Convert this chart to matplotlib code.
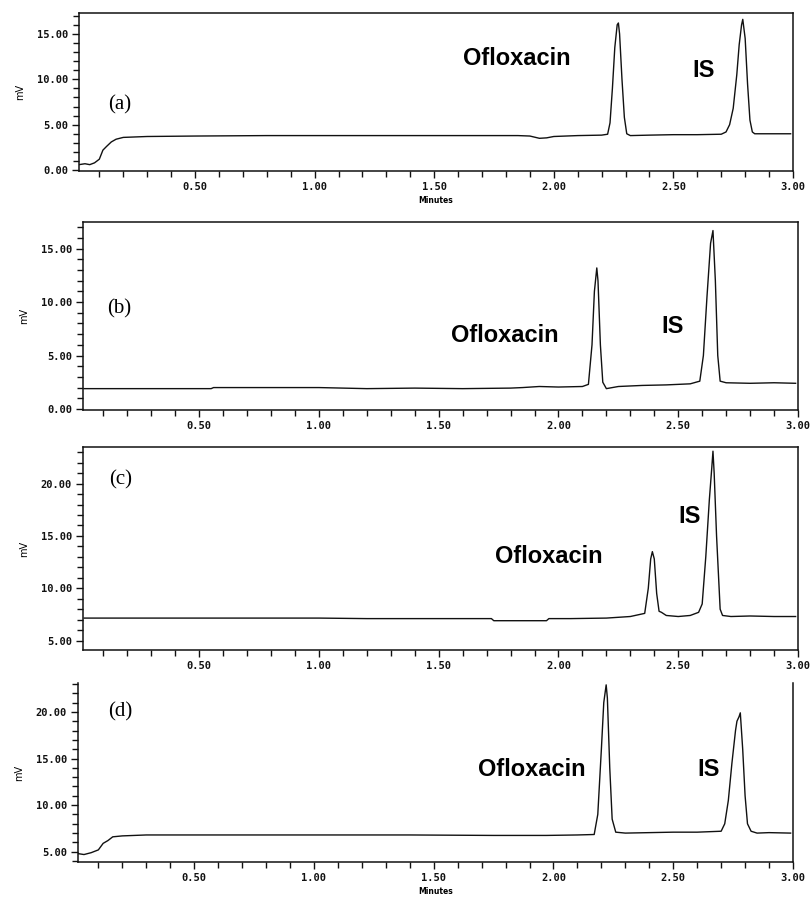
import numpy as np
import matplotlib.pyplot as plt
from matplotlib.ticker import MultipleLocator, FormatStrFormatter

# data: waktu (menit) dan sinyal (mV) tiap kromatogram
t_a = [0.015, 0.04, 0.06, 0.08, 0.10, 0.115, 0.13, 0.15, 0.17, 0.20, 0.30, 0.50, 0.80,
       1.00, 1.30, 1.60, 1.85, 1.90, 1.94, 1.97, 2.00, 2.10, 2.20, 2.225, 2.235, 2.245,
       2.255, 2.265, 2.27, 2.275, 2.285, 2.295, 2.305, 2.32, 2.40, 2.50, 2.60, 2.70,
       2.72, 2.735, 2.75, 2.765, 2.775, 2.785, 2.79, 2.80, 2.81, 2.82, 2.83, 2.84,
       2.90, 2.99]
y_a = [0.6, 0.7, 0.6, 0.8, 1.2, 2.2, 2.6, 3.1, 3.4, 3.6, 3.7, 3.75, 3.8,
       3.8, 3.8, 3.8, 3.8, 3.75, 3.5, 3.55, 3.7, 3.8, 3.85, 3.95, 5.2, 9.0,
       13.5, 16.0, 16.2, 15.0, 10.0, 5.8, 4.0, 3.8, 3.85, 3.9, 3.9, 3.95,
       4.2, 5.0, 6.8, 10.5, 13.8, 16.0, 16.6, 14.5, 9.5, 5.5, 4.2, 4.0,
       4.0, 4.0]

t_b = [0.02, 0.55, 0.56, 1.00, 1.20, 1.40, 1.60, 1.80, 1.85, 1.92, 2.00, 2.10, 2.125,
       2.14, 2.15, 2.16, 2.165, 2.175, 2.185, 2.20, 2.25, 2.35, 2.45, 2.55, 2.59,
       2.605, 2.62, 2.635, 2.645, 2.655, 2.665, 2.675, 2.70, 2.80, 2.90, 2.99]
y_b = [1.9, 1.9, 2.0, 2.0, 1.9, 1.95, 1.9, 1.95, 2.0, 2.1, 2.05, 2.1, 2.3,
       6.0, 11.0, 13.2, 12.0, 6.0, 2.5, 1.9, 2.1, 2.2, 2.25, 2.35, 2.6,
       5.0, 10.5, 15.5, 16.7, 12.0, 5.0, 2.6, 2.45, 2.4, 2.45, 2.4]

t_c = [0.02, 1.00, 1.20, 1.40, 1.72, 1.73, 1.95, 1.96, 2.05, 2.20, 2.30, 2.36, 2.375,
       2.385, 2.392, 2.40, 2.41, 2.42, 2.43, 2.45, 2.50, 2.55, 2.585, 2.60, 2.615,
       2.63, 2.64, 2.645, 2.65, 2.66, 2.675, 2.685, 2.72, 2.80, 2.90, 2.99]
y_c = [7.15, 7.15, 7.1, 7.1, 7.1, 6.9, 6.9, 7.1, 7.1, 7.15, 7.3, 7.6, 10.0,
       12.8, 13.5, 12.8, 9.5, 7.8, 7.7, 7.4, 7.3, 7.4, 7.7, 8.5, 13.0,
       18.5, 21.5, 23.1, 21.0, 15.0, 8.0, 7.4, 7.3, 7.35, 7.3, 7.3]

t_d = [0.015, 0.04, 0.07, 0.09, 0.10, 0.12, 0.14, 0.16, 0.20, 0.30, 0.60, 1.00, 1.40,
       1.75, 1.97, 2.10, 2.17, 2.185, 2.20, 2.21, 2.22, 2.225, 2.235, 2.245, 2.26,
       2.30, 2.40, 2.50, 2.60, 2.70, 2.715, 2.73, 2.745, 2.76, 2.766, 2.775, 2.78,
       2.79, 2.80, 2.81, 2.825, 2.85, 2.90, 2.99]
y_d = [4.8, 4.7, 4.9, 5.1, 5.2, 5.9, 6.2, 6.6, 6.7, 6.8, 6.8, 6.8, 6.8,
       6.75, 6.75, 6.8, 6.85, 9.0, 16.0, 21.0, 22.9, 21.5, 14.0, 8.5, 7.1,
       7.0, 7.05, 7.1, 7.1, 7.2, 8.0, 10.5, 14.5, 18.0, 19.0, 19.5, 19.9,
       16.0, 11.0, 8.0, 7.2, 7.0, 7.05, 7.0]

huruf = ['(a)', '(b)', '(c)', '(d)']
ylims = [(-0.1, 17.3), (-0.1, 17.5), (4.1, 23.5), (3.9, 23.1)]
yticks = [[0, 5, 10, 15], [0, 5, 10, 15], [5, 10, 15, 20], [5, 10, 15, 20]]
posisi_label = [  # (x, y) untuk huruf, Ofloxacin, IS
    [(0.137, 7.2), (1.62, 12.3), (2.58, 11.0)],
    [(0.115, 9.4), (1.55, 6.9), (2.43, 7.7)],
    [(0.124, 20.4), (1.735, 13.05), (2.50, 16.9)],
    [(0.14, 20.0), (1.684, 13.8), (2.60, 13.8)],
]
kotak = [
    [79/810, 1-171/900, 714/810, 158/900],
    [83/810, 1-410/900, 715/810, 188/900],
    [83/810, 1-650/900, 715/810, 203/900],
    [78/810, 1-862/900, 715/810, 179/900],
]

data = [(t_a, y_a), (t_b, y_b), (t_c, y_c), (t_d, y_d)]

fig = plt.figure(figsize=(8.1, 9), dpi=100)

for i in range(4):
    ax = fig.add_axes(kotak[i])
    t, y = data[i]
    ax.plot(t, y, color='#111111', lw=1.0)
    ax.set_xlim(0.015, 3.0)
    ax.set_ylim(*ylims[i])

    ax.set_xticks([0.5, 1.0, 1.5, 2.0, 2.5, 3.0])
    ax.xaxis.set_minor_locator(MultipleLocator(0.1))
    ax.set_yticks(yticks[i])
    ax.yaxis.set_minor_locator(MultipleLocator(1))
    ax.xaxis.set_major_formatter(FormatStrFormatter('%.2f'))
    ax.yaxis.set_major_formatter(FormatStrFormatter('%.2f'))
    ax.tick_params(which='both', direction='out', width=1.0, colors='#111111')
    ax.tick_params(which='major', length=5, labelsize=7.5, pad=3)
    ax.tick_params(which='minor', length=4)
    for lbl in ax.get_xticklabels() + ax.get_yticklabels():
        lbl.set_family('DejaVu Sans Mono')
        lbl.set_fontweight('bold')
    for sp in ax.spines.values():
        sp.set_linewidth(1.1)
        sp.set_color('#111111')
    if i == 3:
        ax.spines['top'].set_visible(False)

    ax.set_ylabel('mV', fontsize=7, labelpad=8)
    if i in (0, 3):
        ax.set_xlabel('Minutes', fontsize=5.5, fontweight='bold', labelpad=3)

    (hx, hy), (ox, oy), (ix, iy) = posisi_label[i]
    ax.text(hx, hy, huruf[i], family='Liberation Serif', fontsize=15, va='center')
    ax.text(ox, oy, 'Ofloxacin', family='Liberation Sans', fontweight='bold',
            fontsize=17, va='center')
    ax.text(ix, iy, 'IS', family='Liberation Sans', fontweight='bold',
            fontsize=17, va='center')

fig.savefig('out.png', dpi=100)
